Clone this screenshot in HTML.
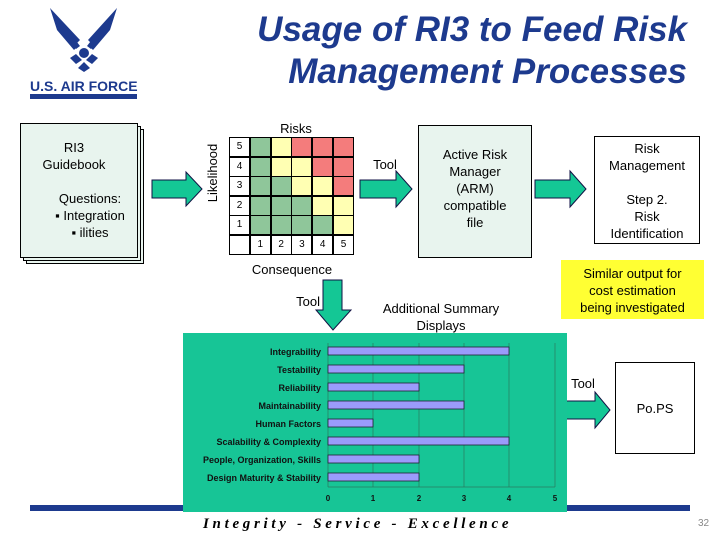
<!DOCTYPE html>
<html><head><meta charset="utf-8"><style>
body{margin:0;width:720px;height:540px;position:relative;background:#fff;font-family:"Liberation Sans",sans-serif;overflow:hidden}
.a{position:absolute}
.t{position:absolute;font-size:13px;color:#000;text-align:center;line-height:17px}
.g{position:absolute;width:20px;height:19px;border:1px solid #000;box-sizing:border-box;font-size:10px;text-align:center;line-height:18px}
</style></head><body>
<!-- logo -->
<svg class="a" style="left:0;top:0" width="160" height="100">
<path d="M50 8 L80 40 L74 46 Z M117 8 L88 40 L94 46 Z" fill="#1d3a8e"/>
<path d="M50 8 L78 46 L74 50 L57 30 Z M117 8 L89 46 L93 50 L110 30 Z" fill="#1d3a8e"/>
<path d="M60 20 L80 46 L76 49 L58 28Z M107 20 L87 46 L91 49 L109 28Z" fill="#1d3a8e"/>
<circle cx="84" cy="53" r="5" fill="#1d3a8e"/>
<path d="M70 58 L76 54 L82 60 L76 64Z M98 58 L92 54 L86 60 L92 64Z M84 62 L90 68 L84 72 L78 68Z" fill="#1d3a8e"/>
<text x="30" y="91" font-family="Liberation Sans" font-weight="bold" font-size="14" fill="#1d3a8e">U.S. AIR FORCE</text>
<rect x="30" y="94" width="107" height="5" fill="#1d3a8e"/>
</svg>
<div class="a" style="right:33px;top:9px;text-align:right;font:italic bold 35px/42px 'Liberation Sans',sans-serif;color:#1d3a8e">Usage of RI3 to Feed Risk<br>Management Processes</div>

<!-- guidebook -->
<div class="a" style="left:26px;top:129px;width:116px;height:133px;border:1px solid #000;background:#e8f4ee"></div>
<div class="a" style="left:23px;top:126px;width:116px;height:133px;border:1px solid #000;background:#e8f4ee"></div>
<div class="a" style="left:20px;top:123px;width:116px;height:133px;border:1px solid #000;background:#e8f4ee"></div>
<div class="t" style="left:20px;top:139px;width:108px">RI3<br>Guidebook</div>
<div class="t" style="left:40px;top:190px;width:100px">Questions:<br>▪ Integration<br>▪ ilities</div>

<svg class="a" style="left:0;top:0" width="720" height="540">
<g fill="#14c795" stroke="#114" stroke-width="1">
<path d="M152 180 H186 V172 L202 189 L186 206 V198 H152Z"/>
<path d="M360 180 H396 V171 L412 189 L396 207 V198 H360Z"/>
<path d="M535 180 H570 V171 L586 189 L570 207 V198 H535Z"/>
<path d="M558 401 H595 V392 L610 410 L595 428 V419 H558Z"/>
<path d="M323 280 H342 V310 H351 L333 330 L316 310 H323Z"/>
</g>
</svg>

<div class="a" style="left:205px;top:220px;transform:rotate(-90deg);transform-origin:0 0;font-size:13px;line-height:16px;width:94px;text-align:center;white-space:nowrap">Likelihood</div>
<div class="t" style="left:266px;top:120px;width:60px">Risks</div>
<div class="t" style="left:242px;top:261px;width:100px">Consequence</div>

<div class="a" style="left:229px;top:137px;width:125px;height:118px;background:#000"></div>
<script>
var c={G:'#8fc69a',Y:'#ffffb3',R:'#f47c7c'};
var rows=['5GYRRR','4GYYRR','3GGYYR','2GGGYY','1GGGGY',' 12345'];
var h='';
for(var r=0;r<6;r++)for(var k=0;k<6;k++){var ch=rows[r][k];var w=(k==0||r==5);var bg=w?'#fff':c[ch];var txt=w?ch:'';
h+='<div class="g" style="left:'+(229+k*20.8)+'px;top:'+(137+r*19.6)+'px;width:21px;height:20px;background:'+bg+'">'+txt+'</div>';}
document.write(h);
</script>

<div class="t" style="left:370px;top:156px;width:30px">Tool</div>
<div class="a" style="left:418px;top:125px;width:114px;height:133px;border:1px solid #000;background:#e8f4ee;box-sizing:border-box"></div>
<div class="t" style="left:418px;top:146px;width:114px">Active Risk<br>Manager<br>(ARM)<br>compatible<br>file</div>
<div class="a" style="left:594px;top:136px;width:106px;height:108px;border:1px solid #000;box-sizing:border-box"></div>
<div class="t" style="left:594px;top:140px;width:106px">Risk<br>Management<br><br>Step 2.<br>Risk<br>Identification</div>
<div class="a" style="left:561px;top:260px;width:143px;height:59px;background:#ffff33"></div>
<div class="t" style="left:561px;top:265px;width:143px">Similar output for<br>cost estimation<br>being investigated</div>
<div class="t" style="left:371px;top:300px;width:140px">Additional Summary<br>Displays</div>
<div class="t" style="left:284px;top:293px;width:36px;text-align:right">Tool</div>

<div class="a" style="left:30px;top:505px;width:660px;height:6px;background:#1d3a8e"></div>
<!-- chart -->
<div class="a" style="left:183px;top:333px;width:384px;height:179px;background:#17c596"></div>
<svg class="a" style="left:183px;top:333px" width="384" height="179">
<g stroke="#2a7a5f" stroke-width="0.7">
<line x1="145" y1="10" x2="145" y2="154"/><line x1="190" y1="10" x2="190" y2="154"/><line x1="236" y1="10" x2="236" y2="154"/><line x1="281" y1="10" x2="281" y2="154"/><line x1="326" y1="10" x2="326" y2="154"/><line x1="372" y1="10" x2="372" y2="154"/>
<line x1="145" y1="154" x2="372" y2="154"/>
</g>
<g fill="#9b9bfb" stroke="#223" stroke-width="0.8">
<rect x="145" y="14" width="181" height="8"/><rect x="145" y="32" width="136" height="8"/><rect x="145" y="50" width="91" height="8"/><rect x="145" y="68" width="136" height="8"/><rect x="145" y="86" width="45" height="8"/><rect x="145" y="104" width="181" height="8"/><rect x="145" y="122" width="91" height="8"/><rect x="145" y="140" width="91" height="8"/>
</g>
<g font-family="Liberation Sans" font-weight="bold" font-size="9" fill="#111" text-anchor="end">
<text x="138" y="22">Integrability</text><text x="138" y="40">Testability</text><text x="138" y="58">Reliability</text><text x="138" y="76">Maintainability</text><text x="138" y="94">Human Factors</text><text x="138" y="112">Scalability &amp; Complexity</text><text x="138" y="130">People, Organization, Skills</text><text x="138" y="148">Design Maturity &amp; Stability</text>
</g>
<g font-family="Liberation Sans" font-weight="bold" font-size="8" fill="#111" text-anchor="middle">
<text x="145" y="168">0</text><text x="190" y="168">1</text><text x="236" y="168">2</text><text x="281" y="168">3</text><text x="326" y="168">4</text><text x="372" y="168">5</text>
</g>
</svg>
<div class="t" style="left:568px;top:375px;width:30px">Tool</div>
<div class="a" style="left:615px;top:362px;width:80px;height:92px;border:1px solid #000;box-sizing:border-box"></div>
<div class="t" style="left:615px;top:400px;width:80px">Po.PS</div>
<div class="a" style="left:203px;top:516px;font:italic bold 15px 'Liberation Serif',serif;letter-spacing:3.7px;white-space:nowrap">Integrity - Service - Excellence</div>
<div class="a" style="left:698px;top:518px;font-size:10px;color:#888">32</div>
</body></html>
